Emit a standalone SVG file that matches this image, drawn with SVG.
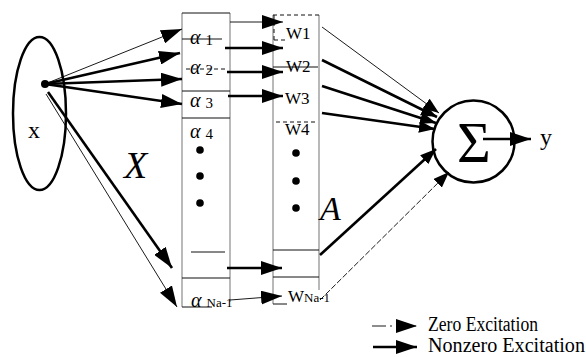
<svg xmlns="http://www.w3.org/2000/svg" width="586" height="357" viewBox="0 0 586 357">
<style>
  .t { font-family: "Liberation Serif", "Times New Roman", serif; fill: #000; }
  .it { font-style: italic; }
  .col { stroke: #8a8a8a; stroke-width: 1.2; fill: none; }
  .row { stroke: #111; stroke-width: 1; fill: none; }
  .dash { stroke: #111; stroke-width: 1; fill: none; stroke-dasharray: 4 3; }
  .thin { stroke: #000; stroke-width: 0.9; fill: none; marker-end: url(#ah); }
  .thick { stroke: #000; stroke-width: 2.6; fill: none; marker-end: url(#ah); }
  .thinS { stroke: #000; stroke-width: 0.9; fill: none; marker-end: url(#ahs); }
  .thickS { stroke: #000; stroke-width: 2.6; fill: none; marker-end: url(#ahs); }
  .dot { fill: #000; }
</style>
<defs>
  <marker id="ah" markerUnits="userSpaceOnUse" markerWidth="21" markerHeight="14" refX="21" refY="7" orient="auto">
    <path d="M0,0 L21,7 L0,14 z" fill="#000"/>
  </marker>
  <marker id="ahs" markerUnits="userSpaceOnUse" markerWidth="16" markerHeight="12" refX="16" refY="6" orient="auto">
    <path d="M0,0 L16,6 L0,12 z" fill="#000"/>
  </marker>
</defs>
<rect width="586" height="357" fill="#fff"/>

<g id="input-x">
  <ellipse cx="39.5" cy="113.5" rx="26.5" ry="76.5" fill="none" stroke="#000" stroke-width="2.5"/>
  <circle class="dot" cx="45" cy="84" r="4"/>
  <text class="t" x="28" y="138" font-size="24">x</text>
</g>

<g id="alpha-column">
  <line class="col" x1="182" y1="13" x2="182" y2="307"/>
  <line class="col" x1="230" y1="13" x2="230" y2="302" stroke="#555"/>
  <line class="row" x1="182" y1="13" x2="230" y2="13"/>
  <line class="row" x1="182" y1="39" x2="222" y2="39"/>
  <line class="dash" x1="186" y1="69" x2="226" y2="69"/>
  <line class="row" x1="182" y1="91" x2="230" y2="91"/>
  <line class="row" x1="182" y1="118" x2="230" y2="118"/>
  <line class="row" x1="191" y1="252" x2="225" y2="252"/>
  <line class="row" x1="182" y1="278" x2="230" y2="278"/>
  <line class="row" x1="182" y1="307" x2="212" y2="307"/>
  <text class="t it" x="190" y="44" font-size="20">α<tspan font-style="normal" font-size="15" dx="5" dy="1">1</tspan></text>
  <text class="t it" x="190" y="74" font-size="20">α<tspan font-style="normal" font-size="15" dx="5" dy="1">2</tspan></text>
  <text class="t it" x="190" y="107" font-size="20">α<tspan font-style="normal" font-size="15" dx="5" dy="1">3</tspan></text>
  <text class="t it" x="190" y="138" font-size="20">α<tspan font-style="normal" font-size="15" dx="5" dy="1">4</tspan></text>
  <circle class="dot" cx="200" cy="150" r="3.8"/>
  <circle class="dot" cx="200" cy="176" r="3.8"/>
  <circle class="dot" cx="200" cy="203" r="3.8"/>
  <text class="t it" x="191" y="307" font-size="20">α<tspan font-style="normal" font-size="13" dx="5">Na-1</tspan></text>
</g>

<g id="w-column">
  <line class="col" x1="273" y1="15" x2="273" y2="304"/>
  <line class="col" x1="319" y1="15" x2="319" y2="290"/>
  <line class="dash" x1="273" y1="15" x2="319" y2="15"/>
  <line class="dash" x1="274" y1="15" x2="274" y2="40"/>
  <line class="dash" x1="274" y1="40" x2="285" y2="40"/>
  <line class="row" x1="273" y1="67" x2="318" y2="67"/>
  <line class="dash" x1="276" y1="122" x2="318" y2="122"/>
  <line class="row" x1="273" y1="250" x2="319" y2="250"/>
  <line class="row" x1="273" y1="277" x2="319" y2="277"/>
  <line class="row" x1="273" y1="304" x2="287" y2="304"/>
  <text class="t" x="286" y="39" font-size="17">W1</text>
  <text class="t" x="286" y="72" font-size="17">W2</text>
  <text class="t" x="285" y="104" font-size="17">W3</text>
  <text class="t" x="285" y="135" font-size="17">W4</text>
  <circle class="dot" cx="296" cy="153" r="3.8"/>
  <circle class="dot" cx="296" cy="181" r="3.8"/>
  <circle class="dot" cx="296" cy="208" r="3.8"/>
  <text class="t" x="288" y="302" font-size="17">W<tspan font-size="13">Na-1</tspan></text>
</g>

<g id="sum-node">
  <circle cx="473.5" cy="141.5" r="41" fill="none" stroke="#000" stroke-width="2.5"/>
  <text class="t" x="474" y="162" font-size="58" text-anchor="middle">Σ</text>
  <text class="t" x="540" y="145" font-size="24">y</text>
</g>

<g id="labels">
  <text class="t it" x="124" y="178" font-size="38">X</text>
  <text class="t it" x="320" y="220" font-size="34">A</text>
</g>

<g id="connectors">
  <line class="thin" x1="45" y1="84" x2="182" y2="29"/>
  <line class="thick" x1="45" y1="84" x2="180" y2="53"/>
  <line class="thick" x1="45" y1="84" x2="182" y2="79"/>
  <line class="thick" x1="45" y1="84" x2="182" y2="104"/>
  <line class="thick" x1="48" y1="92" x2="172" y2="268"/>
  <line class="thin" x1="46" y1="94" x2="177" y2="307"/>

  <line class="thin" x1="230" y1="22" x2="283" y2="22"/>
  <line class="thick" x1="225" y1="48" x2="283" y2="48"/>
  <line class="thick" x1="227" y1="72" x2="283" y2="72"/>
  <line class="thick" x1="228" y1="96" x2="283" y2="96"/>
  <line class="thick" x1="227" y1="268" x2="282" y2="268"/>
  <line class="thin" x1="230" y1="300" x2="282" y2="296"/>

  <line class="thinS" x1="322" y1="27" x2="439" y2="113"/>
  <line class="thickS" x1="322" y1="60" x2="437" y2="117"/>
  <line class="thickS" x1="322" y1="86" x2="436" y2="123"/>
  <line class="thickS" x1="322" y1="113" x2="435" y2="129"/>
  <line class="thickS" x1="320" y1="255" x2="436" y2="149"/>
  <line class="thinS" x1="320" y1="300" x2="449" y2="172" stroke-dasharray="6 2"/>

  <line class="thick" x1="483" y1="139" x2="531" y2="139"/>
</g>

<g id="legend">
  <line class="thin" x1="372" y1="326" x2="417" y2="326" stroke-dasharray="14 4 2 4"/>
  <text class="t" x="428" y="331" font-size="20" textLength="110" lengthAdjust="spacingAndGlyphs">Zero Excitation</text>
  <line class="thick" x1="373" y1="347" x2="417" y2="347"/>
  <text class="t" x="428" y="352" font-size="20" textLength="157" lengthAdjust="spacingAndGlyphs">Nonzero Excitation</text>
</g>
</svg>
